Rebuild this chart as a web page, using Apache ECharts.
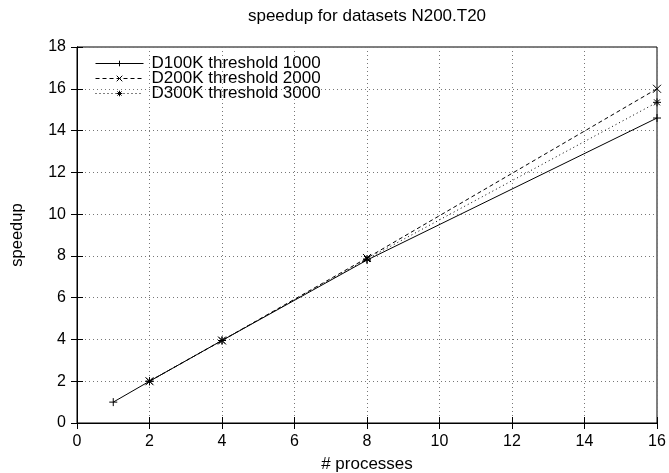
<!DOCTYPE html>
<html><head><meta charset="utf-8">
<script src="https://cdn.jsdelivr.net/npm/echarts@6/dist/echarts.min.js"></script>
<style>html,body{margin:0;padding:0;background:#fff}#c{width:669px;height:473px}</style>
</head><body><div id="c"></div>
<script>
const titleText = 'speedup for datasets N200.T20';
const seriesNames = ['D100K threshold 1000', 'D200K threshold 2000', 'D300K threshold 3000'];
const procs100 = [1, 2, 4, 8, 16];
const speed100 = [1.0, 2.0, 3.95, 7.8, 14.6];
const procs200 = [2, 4, 8, 16];
const speed200 = [2.0, 3.95, 7.9, 16.0];
const procs300 = [2, 4, 8, 16];
const speed300 = [2.0, 3.95, 7.85, 15.35];

const zip = (xs, ys) => xs.map((x, i) => [x, ys[i]]);
const plusSym = 'path://M0,4L8,4M4,0L4,8';
const crossSym = 'path://M0,0L8,8M8,0L0,8';
const starSym = 'path://M0,4L8,4M4,0L4,8M1,1L7,7M7,1L1,7';
const font = 'Liberation Sans';

function mk(name, data, sym, dash) {
  return {
    name, type: 'line', data, symbol: sym, symbolSize: 8, showSymbol: true,
    itemStyle: { color: 'none', borderColor: '#000', borderWidth: 1 },
    lineStyle: { color: '#000', width: 1, type: dash },
    emphasis: { disabled: true }, animation: false, xAxisIndex: 0, yAxisIndex: 0
  };
}

const chart = echarts.init(document.getElementById('c'), null, { renderer: 'canvas' });
const tickStyle = { inside: true, length: 6, lineStyle: { color: '#000', width: 1 } };
chart.setOption({
  animation: false,
  textStyle: { fontFamily: font },
  title: { text: titleText, left: 367, textAlign: 'center', top: 8, padding: 0,
    textStyle: { fontSize: 17, fontWeight: 'normal', color: '#000', fontFamily: font } },
  grid: { left: 77, right: 12, top: 47, bottom: 50, show: true, borderColor: '#000', borderWidth: 1,
    containLabel: false, outerBoundsMode: 'none' },
  legend: {
    orient: 'vertical', left: 95, top: 55, padding: 0, itemWidth: 48, itemHeight: 7, itemGap: -2,
    lineStyle: { width: 1 },
    itemStyle: { borderWidth: 1 },
    textStyle: { fontSize: 17, color: '#000', fontFamily: font, padding: [0, 0, 0, 3] },
    data: seriesNames
  },
  xAxis: [
    { type: 'value', min: 0, max: 16, interval: 2, name: '# processes', nameLocation: 'middle', nameGap: 33,
      nameTextStyle: { fontSize: 17, color: '#000' },
      axisLine: { show: true, lineStyle: { color: '#000' } }, axisTick: tickStyle,
      axisLabel: { fontSize: 16, color: '#000', margin: 11 },
      splitLine: { show: true, lineStyle: { color: '#777', type: [1, 3], width: 1 } } },
    { type: 'value', position: 'top', min: 0, max: 16, interval: 2,
      axisLine: { show: true, lineStyle: { color: '#000' } }, axisTick: tickStyle,
      axisLabel: { show: false }, splitLine: { show: false } }
  ],
  yAxis: [
    { type: 'value', min: 0, max: 18, interval: 2, name: 'speedup', nameLocation: 'middle', nameGap: 51,
      nameTextStyle: { fontSize: 16.5, color: '#000' },
      axisLine: { show: true, lineStyle: { color: '#000' } }, axisTick: tickStyle,
      axisLabel: { fontSize: 16, color: '#000', margin: 11 },
      splitLine: { show: true, lineStyle: { color: '#777', type: [1, 3], width: 1 } } },
    { type: 'value', position: 'right', min: 0, max: 18, interval: 2,
      axisLine: { show: true, lineStyle: { color: '#000' } }, axisTick: tickStyle,
      axisLabel: { show: false }, splitLine: { show: false } }
  ],
  series: [
    mk(seriesNames[0], zip(procs100, speed100), plusSym, 'solid'),
    mk(seriesNames[1], zip(procs200, speed200), crossSym, [4, 3]),
    mk(seriesNames[2], zip(procs300, speed300), starSym, [1, 3])
  ]
});
</script></body></html>
